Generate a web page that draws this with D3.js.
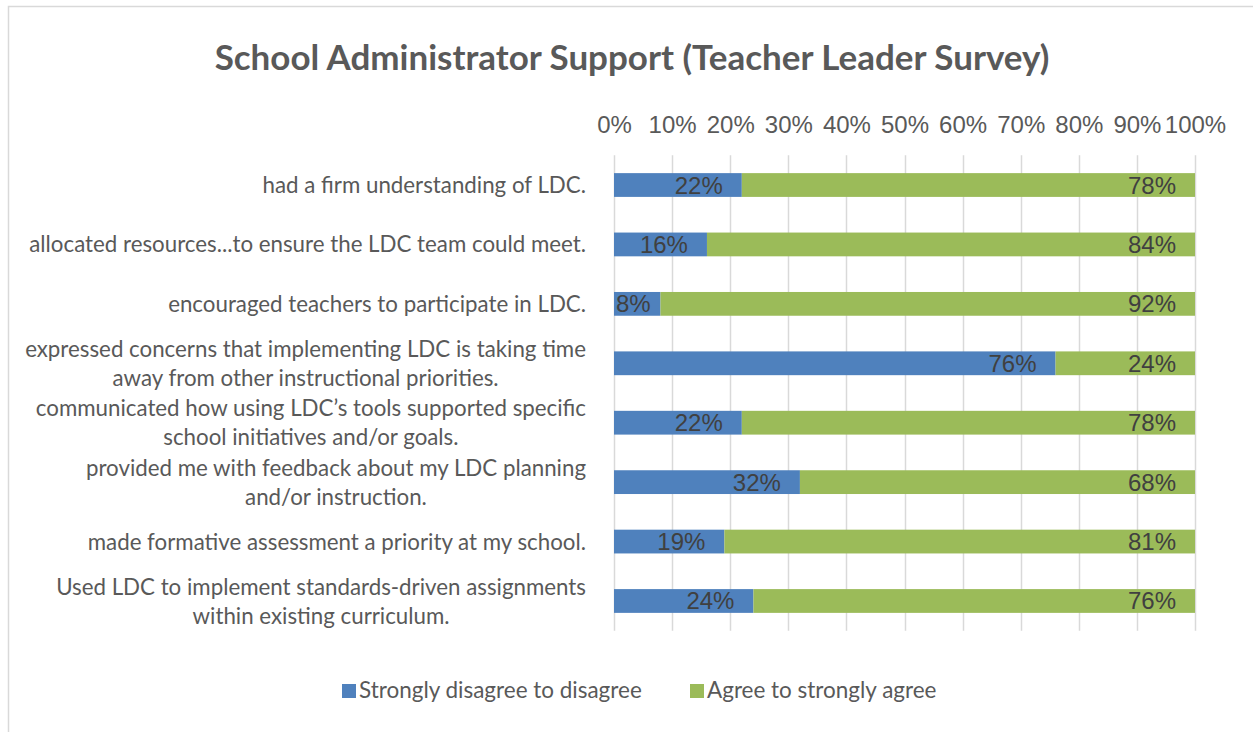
<!DOCTYPE html>
<html>
<head>
<meta charset="utf-8">
<script src="https://cdn.jsdelivr.net/npm/d3@7"></script>
<style>
  html, body { margin: 0; padding: 0; background: #ffffff; }
  svg { display: block; }
</style>
</head>
<body>
<svg id="chart" width="1253" height="732"></svg>
<script>
// ---- Data ----
const categories = [
  ["had a firm understanding of LDC."],
  ["allocated resources...to ensure the LDC team could meet."],
  ["encouraged teachers to participate in LDC."],
  ["expressed concerns that implementing LDC is taking time", "away from other instructional priorities."],
  ["communicated how using LDC\u2019s tools supported specific", "school initiatives and/or goals."],
  ["provided me with feedback about my LDC planning", "and/or instruction."],
  ["made formative assessment a priority at my school."],
  ["Used LDC to implement standards-driven assignments", "within existing curriculum."]
];
const disagree = [22, 16, 8, 76, 22, 32, 19, 24];
const agree    = [78, 84, 92, 24, 78, 68, 81, 76];
const seriesNames = ["Strongly disagree to disagree", "Agree to strongly agree"];
const tickValues = [0, 10, 20, 30, 40, 50, 60, 70, 80, 90, 100];
const title = "School Administrator Support (Teacher Leader Survey)";

// ---- Styles ----
const colors = ["#4F81BD", "#9BBB59"];
const calibriLike = "Lato, 'Open Sans', sans-serif";
const arialLike = "'Liberation Sans', Arial, sans-serif";

const svg = d3.select("#chart");

// measure helper
function measure(text, family, size, weight) {
  const t = svg.append("text").attr("font-family", family).attr("font-size", size)
    .attr("font-weight", weight || "normal").text(text);
  const w = t.node().getComputedTextLength();
  t.remove();
  return w;
}
function fitSize(text, family, weight, target) {
  const w = measure(text, family, 20, weight);
  return 20 * target / w;
}

// chart border (top and left edges visible)
svg.append("path").attr("d", "M8.5,760 L8.5,6.5 L1253,6.5")
  .attr("fill", "none").attr("stroke", "#D9D9D9").attr("stroke-width", 1.5);

// title
const titleSize = fitSize(title, calibriLike, "bold", 835);
svg.append("text").attr("x", 632).attr("y", 70).attr("text-anchor", "middle")
  .attr("font-family", calibriLike).attr("font-weight", "bold").attr("font-size", titleSize)
  .attr("fill", "#595959").text(title);

// scales
const x0 = 614, x1 = 1195, yTop = 155.3, yBot = 630.7;
const x = d3.scaleLinear().domain([0, 100]).range([x0, x1]);
const y = d3.scaleBand().domain(d3.range(categories.length)).range([yTop, yBot])
  .paddingInner(0.6).paddingOuter(0.3);

// gridlines
svg.append("g").selectAll("line").data(tickValues).join("line")
  .attr("x1", d => Math.round(x(d)) + 0.5).attr("x2", d => Math.round(x(d)) + 0.5)
  .attr("y1", yTop).attr("y2", yBot)
  .attr("stroke", "#D9D9D9").attr("stroke-width", 1.5);

// top axis
const axis = d3.axisTop(x).tickValues(tickValues).tickFormat(d => d + "%").tickSize(0).tickPadding(0);
const ax = svg.append("g").attr("transform", `translate(0,133)`).call(axis);
ax.select(".domain").remove();
ax.selectAll("text").attr("font-family", arialLike).attr("font-size", 24)
  .attr("fill", "#595959").attr("dy", 0);

// stacked bars
const rows = categories.map((c, i) => ({ i, vals: [disagree[i], agree[i]] }));
const segs = [];
rows.forEach(r => {
  let acc = 0;
  r.vals.forEach((v, s) => { segs.push({ i: r.i, s, start: acc, end: acc + v, v }); acc += v; });
});
svg.append("g").selectAll("rect").data(segs).join("rect")
  .attr("x", d => x(d.start)).attr("width", d => x(d.end) - x(d.start))
  .attr("y", d => y(d.i)).attr("height", y.bandwidth())
  .attr("fill", d => colors[d.s]);

// data labels
svg.append("g").selectAll("text").data(segs).join("text")
  .attr("x", d => {
    const w = measure(d.v + "%", arialLike, 24);
    return Math.max(x(d.end) - 19, x(d.start) + w + 2);
  })
  .attr("y", d => y(d.i) + y.bandwidth() / 2 + 8.5)
  .attr("text-anchor", "end")
  .attr("font-family", arialLike).attr("font-size", 24).attr("fill", "#404040")
  .text(d => d.v + "%");

// category labels
const labelSize = fitSize(categories[1][0], calibriLike, "normal", 557);
const labelRight = 586, lineH = 29;
const lg = svg.append("g");
categories.forEach((lines, i) => {
  const widths = lines.map(l => measure(l, calibriLike, labelSize));
  const maxW = d3.max(widths);
  const cx = labelRight - maxW / 2;
  const cy = y(i) + y.bandwidth() / 2;
  lines.forEach((l, k) => {
    const off = (k - (lines.length - 1) / 2) * lineH;
    lg.append("text").attr("x", cx).attr("y", cy + off + labelSize * 0.36)
      .attr("text-anchor", "middle").attr("font-family", calibriLike)
      .attr("font-size", labelSize).attr("fill", "#595959").text(l);
  });
});

// legend
const legSize = fitSize(seriesNames[0], calibriLike, "normal", 283);
const legX = [342, 690];
const leg = svg.append("g");
seriesNames.forEach((n, s) => {
  leg.append("rect").attr("x", legX[s]).attr("y", 684).attr("width", 14).attr("height", 14)
    .attr("fill", colors[s]);
  leg.append("text").attr("x", legX[s] + 17).attr("y", 698)
    .attr("font-family", calibriLike).attr("font-size", legSize).attr("fill", "#595959").text(n);
});
</script>
</body>
</html>
